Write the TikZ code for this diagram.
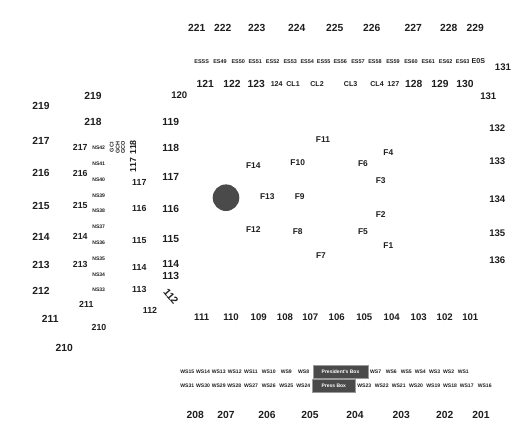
\documentclass[tikz,border=0pt]{standalone}
\usepackage{fontspec}
\setmainfont{Liberation Sans}
\usepackage{xcolor}
\definecolor{inkdark}{HTML}{1E1E1E}
\definecolor{boxgrey}{HTML}{4A4A4A}
\definecolor{boxedge}{HTML}{9A9A9A}
\begin{document}
\begin{tikzpicture}[
    x=1pt, y=-1pt,
    lbl/.style={inner sep=0pt, text=inkdark, font=\fontsize{10.3}{12}\selectfont\bfseries},
    sidelbl/.style={lbl, font=\fontsize{9.6}{11}\selectfont\bfseries},
    midlbl/.style={lbl, font=\fontsize{8.8}{10}\selectfont\bfseries},
    fieldlbl/.style={lbl, font=\fontsize{8.4}{10}\selectfont\bfseries},
    smalllbl/.style={lbl, font=\fontsize{7.1}{9}\selectfont\bfseries},
    seat/.style={lbl, font=\fontsize{5.1}{6}\selectfont\bfseries},
    eseat/.style={seat, font=\fontsize{5.5}{6}\selectfont\bfseries},
    suite/.style={draw=boxedge, fill=boxgrey, inner sep=0pt, text=white, font=\fontsize{5}{6}\selectfont\bfseries}
  ]
  \useasboundingbox (0,0) rectangle (525,445);

  % Upper tier, north
  \node[lbl] (u221) at (196.7,27.7) {221};
  \node[lbl] (u222) at (222.7,27.7) {222};
  \node[lbl] (u223) at (256.7,27.7) {223};
  \node[lbl] (u224) at (296.7,27.7) {224};
  \node[lbl] (u225) at (334.7,27.7) {225};
  \node[lbl] (u226) at (371.7,27.7) {226};
  \node[lbl] (u227) at (413.3,27.7) {227};
  \node[lbl] (u228) at (448.7,27.7) {228};
  \node[lbl] (u229) at (475.3,27.7) {229};

  % East seats
  \node[eseat] (esss) at (201.7,61.3) {ESSS};
  \node[eseat] (es49) at (220,61.3) {ES49};
  \node[eseat] (es50) at (238.3,61.3) {ES50};
  \node[eseat] (es51) at (255.3,61.3) {ES51};
  \node[eseat] (es52) at (272.7,61.3) {ES52};
  \node[eseat] (es53) at (290.3,61.3) {ES53};
  \node[eseat] (es54) at (307.3,61.3) {ES54};
  \node[eseat] (es55) at (323.7,61.3) {ES55};
  \node[eseat] (es56) at (340.3,61.3) {ES56};
  \node[eseat] (es57) at (358,61.3) {ES57};
  \node[eseat] (es58) at (375,61.3) {ES58};
  \node[eseat] (es59) at (393,61.3) {ES59};
  \node[eseat] (es60) at (411,61.3) {ES60};
  \node[eseat] (es61) at (428.3,61.3) {ES61};
  \node[eseat] (es62) at (445.7,61.3) {ES62};
  \node[eseat] (es63) at (462.7,61.3) {ES63};
  \node[smalllbl] (e0s) at (478.3,61) {E0S};

  % Lower tier, north
  \node[sidelbl] (l120) at (179.3,95.3) {120};
  \node[lbl] (l121) at (205.3,83.7) {121};
  \node[lbl] (l122) at (232,83.7) {122};
  \node[lbl] (l123) at (256.3,83.7) {123};
  \node[smalllbl] (l124) at (276.7,84) {124};
  \node[smalllbl] (cl1) at (293,84) {CL1};
  \node[smalllbl] (cl2) at (317,84) {CL2};
  \node[smalllbl] (cl3) at (350.7,84) {CL3};
  \node[smalllbl] (cl4) at (377,84) {CL4};
  \node[smalllbl] (l127) at (393.3,84) {127};
  \node[lbl] (l128) at (413.7,83.7) {128};
  \node[lbl] (l129) at (440,83.7) {129};
  \node[lbl] (l130) at (465,83.7) {130};

  % East side
  \node[sidelbl] (r131a) at (503,67.3) {131};
  \node[sidelbl] (r131b) at (488.3,96.5) {131};
  \node[sidelbl] (r132) at (497.3,128.3) {132};
  \node[sidelbl] (r133) at (497.3,160.7) {133};
  \node[sidelbl] (r134) at (497.3,199.3) {134};
  \node[sidelbl] (r135) at (497.3,232.7) {135};
  \node[sidelbl] (r136) at (497.3,260.3) {136};

  % Upper tier, west outer
  \node[lbl] (w219) at (41,106) {219};
  \node[lbl] (w217) at (41,140.7) {217};
  \node[lbl] (w216) at (41,173) {216};
  \node[lbl] (w215) at (41,206) {215};
  \node[lbl] (w214) at (41,236.7) {214};
  \node[lbl] (w213) at (41,265.3) {213};
  \node[lbl] (w212) at (41,291.3) {212};
  \node[lbl] (w211) at (50.3,318.7) {211};
  \node[lbl] (w210) at (64.3,347.7) {210};

  % Upper tier, west inner
  \node[lbl] (i219) at (93,96) {219};
  \node[lbl] (i218) at (93,121.7) {218};
  \node[midlbl] (i217) at (80.3,147.3) {217};
  \node[midlbl] (i216) at (80.3,173) {216};
  \node[midlbl] (i215) at (80.3,205.3) {215};
  \node[midlbl] (i214) at (80.3,236.7) {214};
  \node[midlbl] (i213) at (80.3,264.7) {213};
  \node[midlbl] (i211) at (86.3,304.7) {211};
  \node[midlbl] (i210) at (99,327.3) {210};

  % North seats
  \node[seat] (ns42) at (98.7,147.3) {NS42};
  \node[seat] (ns41) at (98.7,163.7) {NS41};
  \node[seat] (ns40) at (98.7,179.7) {NS40};
  \node[seat] (ns39) at (98.7,195.3) {NS39};
  \node[seat] (ns38) at (98.7,211) {NS38};
  \node[seat] (ns37) at (98.7,227) {NS37};
  \node[seat] (ns36) at (98.7,242.7) {NS36};
  \node[seat] (ns35) at (98.7,258.7) {NS35};
  \node[seat] (ns34) at (98.7,274.7) {NS34};
  \node[seat] (ns33) at (98.7,289.3) {NS33};

  % Rotated labels
  \node[eseat, rotate=90] (gci) at (111.7,147.3) {GCI};
  \node[eseat, rotate=90] (gch) at (117.7,147.3) {GCH};
  \node[eseat, rotate=90] (gco) at (123,147.3) {GCO};
  \node[midlbl, rotate=90] (v118) at (133,147.3) {118};
  \node[midlbl, rotate=90] (v117) at (133,165) {117};
  \node[lbl, rotate=-50] (v112) at (171,296.3) {112};

  % Lower tier, west
  \node[midlbl] (m117) at (139.3,182) {117};
  \node[midlbl] (m116) at (139.3,208.7) {116};
  \node[midlbl] (m115) at (139.3,240.3) {115};
  \node[midlbl] (m114) at (139.3,267.7) {114};
  \node[midlbl] (m113) at (139.3,289.3) {113};
  \node[midlbl] (m112) at (150,310.7) {112};
  \node[lbl] (n119) at (170.7,121.7) {119};
  \node[lbl] (n118) at (170.7,148) {118};
  \node[lbl] (n117) at (170.7,177.3) {117};
  \node[lbl] (n116) at (170.7,208.7) {116};
  \node[lbl] (n115) at (170.7,239.3) {115};
  \node[lbl] (n114) at (170.7,264) {114};
  \node[lbl] (n113) at (170.7,276.3) {113};

  % Lower tier, south
  \node[sidelbl] (s111) at (201.7,316.7) {111};
  \node[sidelbl] (s110) at (231,316.7) {110};
  \node[sidelbl] (s109) at (258.7,316.7) {109};
  \node[sidelbl] (s108) at (285,316.7) {108};
  \node[sidelbl] (s107) at (310.3,316.7) {107};
  \node[sidelbl] (s106) at (336.7,316.7) {106};
  \node[sidelbl] (s105) at (364.3,316.7) {105};
  \node[sidelbl] (s104) at (391.7,316.7) {104};
  \node[sidelbl] (s103) at (418.7,316.7) {103};
  \node[sidelbl] (s102) at (444.7,316.7) {102};
  \node[sidelbl] (s101) at (470.3,316.7) {101};

  % Field
  \fill[boxgrey] (226,197.7) circle (13.3);
  \node[fieldlbl] (f1) at (388.3,245.3) {F1};
  \node[fieldlbl] (f2) at (380.7,214.3) {F2};
  \node[fieldlbl] (f3) at (380.7,180.3) {F3};
  \node[fieldlbl] (f4) at (388.3,152.3) {F4};
  \node[fieldlbl] (f5) at (363,232) {F5};
  \node[fieldlbl] (f6) at (363,163.3) {F6};
  \node[fieldlbl] (f7) at (321,256) {F7};
  \node[fieldlbl] (f8) at (297.7,232) {F8};
  \node[fieldlbl] (f9) at (299.7,196.3) {F9};
  \node[fieldlbl] (f10) at (297.7,162.7) {F10};
  \node[fieldlbl] (f11) at (323,139.3) {F11};
  \node[fieldlbl] (f12) at (253.3,229.3) {F12};
  \node[fieldlbl] (f13) at (267.3,196.3) {F13};
  \node[fieldlbl] (f14) at (253.3,165.7) {F14};

  % Suites
  \node[suite, minimum width=55.6pt, minimum height=13pt] (president) at (340.5,371.8) {President's Box};
  \node[suite, minimum width=42.3pt, minimum height=13pt] (press) at (333.8,385.8) {Press Box};

  % West seats
  \node[seat] (ws15) at (187.3,372) {WS15};
  \node[seat] (ws14) at (203,372) {WS14};
  \node[seat] (ws13) at (218.7,372) {WS13};
  \node[seat] (ws12) at (234.7,372) {WS12};
  \node[seat] (ws11) at (251,372) {WS11};
  \node[seat] (ws10) at (268.7,372) {WS10};
  \node[seat] (ws9) at (286.3,372) {WS9};
  \node[seat] (ws8) at (303.7,372) {WS8};
  \node[seat] (ws7) at (375.7,372) {WS7};
  \node[seat] (ws6) at (391.3,372) {WS6};
  \node[seat] (ws5) at (406.3,372) {WS5};
  \node[seat] (ws4) at (420.3,372) {WS4};
  \node[seat] (ws3) at (434.7,372) {WS3};
  \node[seat] (ws2) at (448.7,372) {WS2};
  \node[seat] (ws1) at (463.3,372) {WS1};
  \node[seat] (ws31) at (187.3,385.7) {WS31};
  \node[seat] (ws30) at (203,385.7) {WS30};
  \node[seat] (ws29) at (218.7,385.7) {WS29};
  \node[seat] (ws28) at (234.3,385.7) {WS28};
  \node[seat] (ws27) at (251,385.7) {WS27};
  \node[seat] (ws26) at (268.7,385.7) {WS26};
  \node[seat] (ws25) at (286.3,385.7) {WS25};
  \node[seat] (ws24) at (303.3,385.7) {WS24};
  \node[seat] (ws23) at (364.3,385.7) {WS23};
  \node[seat] (ws22) at (381.7,385.7) {WS22};
  \node[seat] (ws21) at (398.7,385.7) {WS21};
  \node[seat] (ws20) at (416,385.7) {WS20};
  \node[seat] (ws19) at (433.3,385.7) {WS19};
  \node[seat] (ws18) at (450,385.7) {WS18};
  \node[seat] (ws17) at (466.7,385.7) {WS17};
  \node[seat] (ws16) at (484.7,385.7) {WS16};

  % Upper tier, south
  \node[lbl] (b208) at (195.3,415.3) {208};
  \node[lbl] (b207) at (226,415.3) {207};
  \node[lbl] (b206) at (267,415.3) {206};
  \node[lbl] (b205) at (310,415.3) {205};
  \node[lbl] (b204) at (355,415.3) {204};
  \node[lbl] (b203) at (401.3,415.3) {203};
  \node[lbl] (b202) at (444.7,415.3) {202};
  \node[lbl] (b201) at (481,415.3) {201};
\end{tikzpicture}
\end{document}
